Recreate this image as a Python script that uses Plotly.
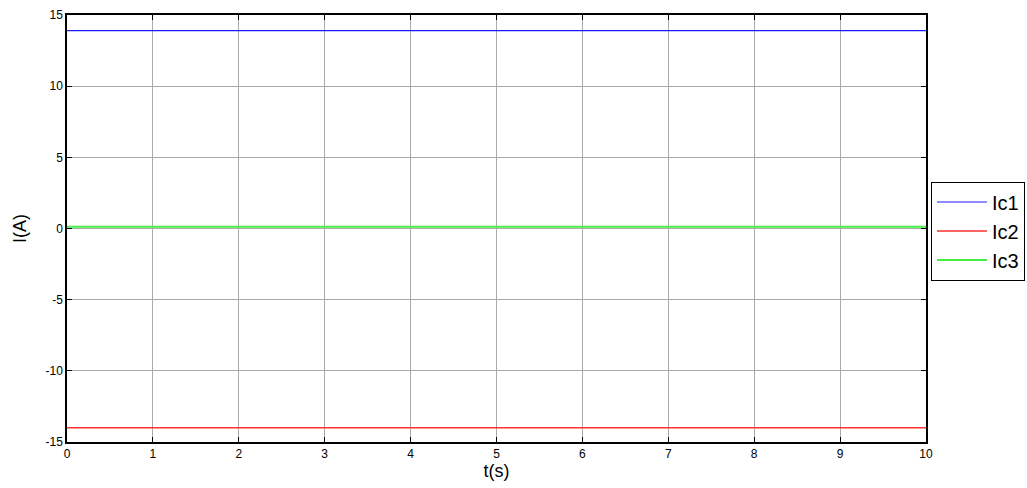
import plotly.graph_objects as go

t = [0, 10]
ic1 = [13.9, 13.9]
ic2 = [-14.0, -14.0]
ic3 = [0.12, 0.12]

x_ticks = [0, 1, 2, 3, 4, 5, 6, 7, 8, 9, 10]
y_ticks = [-15, -10, -5, 0, 5, 10, 15]
y_tick_labels = ["-15", "-10", "-5", "0", "5", "10", "15"]

fig = go.Figure()
fig.add_trace(go.Scatter(x=t, y=ic1, mode="lines", name="Ic1",
                         line=dict(color="#1a1aff", width=1.2)))
fig.add_trace(go.Scatter(x=t, y=ic2, mode="lines", name="Ic2",
                         line=dict(color="#ff3030", width=1.3)))
fig.add_trace(go.Scatter(x=t, y=ic3, mode="lines", name="Ic3",
                         line=dict(color="#44ee44", width=2)))

axis_common = dict(
    showline=True, linecolor="black", linewidth=1.5, mirror="ticks",
    ticks="inside", ticklen=5, tickcolor="black", tickwidth=1,
    showgrid=True, gridcolor="rgb(170,170,170)", gridwidth=1,
    zeroline=False,
    tickfont=dict(family="Arial, Liberation Sans", size=12, color="black"),
)

fig.update_xaxes(range=[0, 10], tickvals=x_ticks,
                 title=dict(text="t(s)", font=dict(family="Arial, Liberation Sans", size=18, color="black"),
                            standoff=4),
                 **axis_common)
fig.update_yaxes(range=[-15, 15], tickvals=y_ticks, ticktext=y_tick_labels,
                 title=dict(text="I(A)", font=dict(family="Arial, Liberation Sans", size=18, color="black"),
                            standoff=14),
                 **axis_common)

fig.update_layout(
    width=1027, height=488,
    margin=dict(l=67, r=101, t=15, b=46, autoexpand=False),
    plot_bgcolor="white", paper_bgcolor="white",
    showlegend=True,
    legend=dict(x=931 / 1027, y=(488 - 231) / 488, xref="container", yref="container",
                xanchor="left", yanchor="middle",
                bordercolor="black", borderwidth=1, bgcolor="white",
                font=dict(family="Arial, Liberation Sans", size=20, color="black"),
                tracegroupgap=0, itemwidth=50),
)

fig.write_html("out.html", config={"displayModeBar": False},
               post_script="document.body.style.margin='0';")
